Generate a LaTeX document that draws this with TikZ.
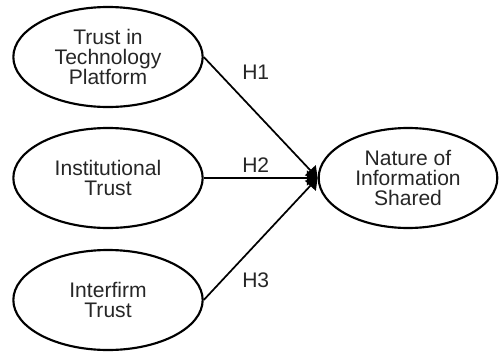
\documentclass[tikz,border=0pt]{standalone}
\usepackage{fontspec}
\setmainfont{Liberation Sans}
\usetikzlibrary{shapes.geometric,arrows.meta}
\newcommand{\cfont}{\fontsize{15.8pt}{15pt}\selectfont}
\begin{document}
\begin{tikzpicture}[x=0.75pt,y=-0.75pt,
  construct/.style={ellipse,draw=black,line width=1.6pt,minimum width=142pt,minimum height=75pt,inner sep=0pt,align=center,font=\cfont,text=black!85},
  path/.style={line width=1.3pt,-{Triangle[length=8pt,width=11pt]}},
  hlab/.style={font=\cfont,text=black!85,anchor=west,inner sep=0pt}]
\useasboundingbox (0,0) rectangle (501,354);
\node[construct] (a) at (108,57) {Trust in\\Technology\\Platform};
\node[construct] (b) at (108,178) {Institutional\\Trust};
\node[construct] (c) at (108,300) {Interfirm\\Trust};
\node[construct,minimum width=134pt] (d) at (408,178) {Nature of\\Information\\Shared};
\draw[path] (a.east) -- (d.west);
\draw[path] (b.east) -- (d.west);
\draw[path] (c.east) -- (d.west);
\node[hlab] (h1) at (242,72) {H1};
\node[hlab] (h2) at (242,165) {H2};
\node[hlab] (h3) at (242,280) {H3};
\end{tikzpicture}
\end{document}
